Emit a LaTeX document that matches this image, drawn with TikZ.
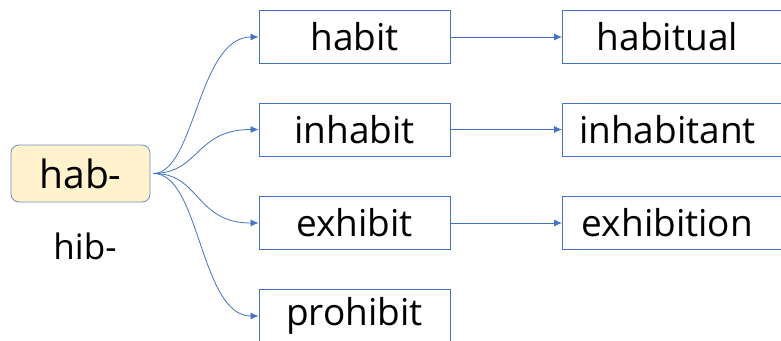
\documentclass[tikz,border=0pt]{standalone}
\usepackage{fontspec}
\setmainfont{Open Sans}
\usepackage{tikz}
\usetikzlibrary{arrows.meta,positioning}
\definecolor{linkblue}{RGB}{68,114,196}
\definecolor{rootfill}{RGB}{255,242,204}
\definecolor{rootdraw}{RGB}{108,142,191}

\begin{document}
\begin{tikzpicture}[
        x=1pt, y=-1pt,
        rootbox/.style={rectangle, draw=rootdraw, thick, fill=rootfill, minimum width=139pt, minimum height=57pt, rounded corners=8pt, inner sep=0pt, font=\fontsize{39}{40}\selectfont},
        wordbox/.style={rectangle, draw=linkblue, line width=0.9pt, fill=white, minimum width=191pt, minimum height=53pt, inner sep=0pt, font=\fontsize{37}{40}\selectfont},
        link/.style={-{Latex[length=8pt,width=7pt]}, draw=linkblue, line width=0.8pt}
    ]
        \clip (0,0) rectangle (781,340);
        \useasboundingbox (0,0) rectangle (781,340);

        % Nodes
        \node[rootbox] (hab) at (80.5,173.5) {hab-};
        \node[font=\fontsize{35}{38}\selectfont] (hib) at (85,246) {hib-};

        \node[wordbox] (habit) at (354.5,37) {habit};
        \node[wordbox] (inhabit) at (354.5,129.5) {inhabit};
        \node[wordbox] (exhibit) at (354.5,223) {exhibit};
        \node[wordbox] (prohibit) at (354.5,316) {prohibit};

        \node[wordbox, minimum width=240pt, anchor=west] (habitual) at (562,37) {\hspace*{-30pt}habitual};
        \node[wordbox, minimum width=240pt, anchor=west] (inhabitant) at (562,129.5) {\hspace*{-30pt}inhabitant};
        \node[wordbox, minimum width=240pt, anchor=west] (exhibition) at (562,223) {\hspace*{-30pt}exhibition};

        \coordinate (fork) at ([xshift=3pt]hab.east);

        % Edges
        \draw[link] (fork) .. controls (195,173) and (198,37) .. (habit.west);
        \draw[link] (fork) .. controls (200,173) and (195,129.5) .. (inhabit.west);
        \draw[link] (fork) .. controls (200,173) and (195,223) .. (exhibit.west);
        \draw[link] (fork) .. controls (200,173) and (200,316) .. (prohibit.west);

        \draw[link] (habit) -- (habitual);
        \draw[link] (inhabit) -- (inhabitant);
        \draw[link] (exhibit) -- (exhibition);
    \end{tikzpicture}
\end{document}
